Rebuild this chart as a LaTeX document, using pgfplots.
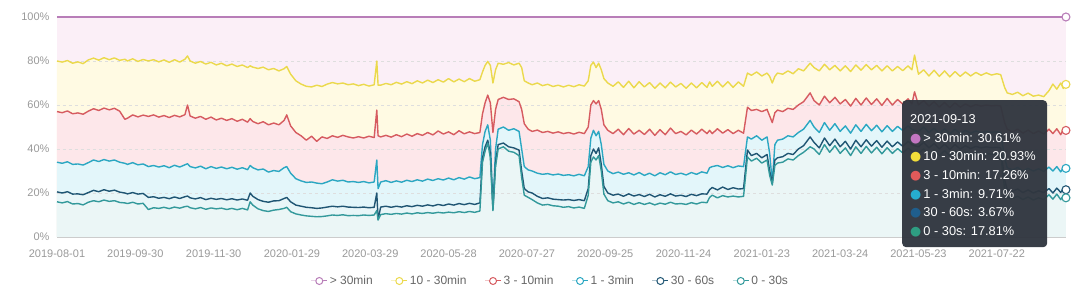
\documentclass[border=0pt]{standalone}
\usepackage{pgfplots}
\pgfplotsset{compat=1.18}
\usepackage{pgfplotstable}
\usepackage{fontspec}
\setmainfont{Liberation Sans}
\newfontfamily\dejavu{DejaVu Sans}

\definecolor{cTop}{HTML}{B87DB8}
\definecolor{cY}{HTML}{EBD94C}
\definecolor{cR}{HTML}{D65B60}
\definecolor{cC}{HTML}{2BA7C2}
\definecolor{cN}{HTML}{1F5573}
\definecolor{cT}{HTML}{33999B}
\definecolor{fTop}{HTML}{FBEFF7}
\definecolor{fY}{HTML}{FFFAE3}
\definecolor{fR}{HTML}{FDE7EA}
\definecolor{fC}{HTML}{E3F6FA}
\definecolor{fN}{HTML}{E8F6F8}
\definecolor{fT}{HTML}{EBF6F6}
\definecolor{ttbg}{HTML}{30363F}
\definecolor{ttP}{HTML}{C276C2}
\definecolor{ttY}{HTML}{F2DE3A}
\definecolor{ttR}{HTML}{E15A5A}
\definecolor{ttC}{HTML}{26ADCF}
\definecolor{ttN}{HTML}{1F5E8C}
\definecolor{ttG}{HTML}{2E9E82}
\definecolor{labgray}{HTML}{999999}
\definecolor{leggray}{HTML}{666666}

\pgfplotstableread{
d Y R C N T
0 80.0 57.0 34.0 20.5 16.0
4 79.5 56.5 33.5 20.0 15.5
8 80.2 57.3 34.2 20.6 16.1
12 79.0 56.0 33.0 19.5 15.0
16 79.6 56.4 33.2 19.6 15.2
20 78.8 55.8 32.7 19.2 14.6
24 80.5 57.2 33.8 20.2 15.8
28 81.3 58.3 35.0 21.2 16.5
32 80.4 57.5 34.3 20.6 16.0
36 81.5 58.6 35.2 21.5 16.8
40 80.6 57.8 34.5 20.8 16.2
44 81.4 58.5 35.0 21.3 16.5
48 80.3 57.2 34.0 20.4 15.7
52 80.8 53.5 33.5 20.0 15.5
54 80.0 54.0 33.0 19.6 15.2
58 81.0 55.5 33.8 20.2 15.8
62 79.8 54.6 32.8 19.5 15.0
66 80.7 55.4 33.2 19.8 15.3
70 80.0 54.8 32.0 18.0 12.5
74 80.6 55.5 32.5 18.3 13.3
78 79.6 54.5 31.8 17.6 13.0
82 80.5 55.2 32.4 18.0 13.5
86 79.4 54.3 31.5 17.4 12.9
90 80.6 55.3 32.6 18.2 13.6
94 79.5 54.6 31.8 17.5 13.1
98 80.8 55.6 32.8 18.3 13.8
100 82.3 60.0 33.3 18.6 14.0
102 80.0 55.0 32.0 17.8 13.3
106 79.0 54.0 31.4 17.3 12.8
110 79.8 54.8 32.2 17.9 13.4
114 78.6 53.5 31.0 17.0 12.6
118 79.4 54.5 32.0 17.6 13.2
122 78.2 53.2 31.2 17.1 12.8
126 79.0 54.0 31.8 17.5 13.1
130 77.8 53.0 31.0 16.9 12.5
134 78.6 53.8 31.7 17.4 13.0
138 77.5 52.6 30.8 16.8 12.4
142 78.2 53.5 31.5 17.3 13.0
146 77.0 52.2 30.6 16.7 12.3
148 77.8 53.8 32.5 20.0 16.0
150 77.2 52.5 31.5 18.5 14.5
154 76.6 51.5 30.5 17.0 12.8
158 77.2 52.4 30.9 16.2 12.0
162 76.0 51.0 29.5 15.8 11.6
166 76.6 51.8 30.2 16.4 12.2
170 75.5 51.0 29.8 16.5 12.5
174 76.5 53.0 31.5 17.5 13.0
176 77.5 55.5 32.0 18.0 13.5
179 74.0 50.5 29.0 16.0 11.5
183 71.0 47.5 26.5 14.5 10.5
187 69.5 46.0 25.5 14.0 10.0
191 68.5 44.0 24.8 13.5 9.6
195 68.2 45.8 25.0 13.3 9.4
199 69.0 43.5 24.5 13.0 9.2
203 68.4 45.5 24.2 13.2 9.3
207 69.5 44.8 25.0 13.6 9.6
211 70.2 46.0 26.0 14.0 10.0
215 69.6 45.3 25.4 13.7 9.8
219 70.0 46.2 25.8 14.0 10.1
223 69.2 45.5 25.0 13.6 9.7
227 69.6 45.0 25.2 13.5 9.8
231 68.8 45.6 24.8 13.4 9.7
235 69.4 45.0 25.2 13.6 10.0
239 68.6 45.8 24.6 13.3 9.8
243 69.2 45.2 25.0 13.5 10.0
245 80.0 57.7 35.0 20.0 12.0
246 69.0 46.0 22.0 8.0 7.7
248 69.0 45.5 25.0 13.6 10.2
252 69.8 46.2 25.6 14.0 10.6
256 69.2 45.4 24.8 13.5 10.3
260 70.3 46.5 25.5 14.0 10.7
264 69.5 45.6 24.9 13.6 10.4
268 70.6 46.8 25.8 14.2 10.9
272 69.7 45.8 25.2 13.8 10.5
276 71.0 47.0 26.0 14.4 11.0
280 70.0 46.2 25.4 14.0 10.7
284 71.3 47.5 26.3 14.6 11.1
288 70.2 46.4 25.7 14.1 10.8
292 71.5 48.2 26.5 14.8 11.2
296 70.4 46.8 25.9 14.3 10.9
300 72.0 47.8 26.8 15.0 11.3
304 70.5 46.5 26.0 14.5 11.0
308 71.8 48.3 27.0 15.2 11.5
312 70.6 46.9 26.3 14.7 11.1
316 72.0 47.8 27.3 15.3 11.6
320 70.8 47.0 26.5 14.8 11.2
324 71.5 47.5 27.0 15.5 11.8
326 75.0 56.0 42.0 36.0 34.0
328 78.0 61.0 48.0 41.0 39.0
330 79.8 64.5 51.0 44.0 42.7
332 78.0 61.0 44.0 38.0 36.0
334 70.0 47.5 14.0 12.5 12.0
336 76.0 58.0 40.0 34.0 32.0
338 79.0 62.5 49.0 42.0 40.0
342 78.5 63.5 50.0 42.7 41.0
346 79.3 62.5 48.5 41.0 39.0
350 78.2 62.8 49.2 40.5 38.5
354 79.0 61.5 48.0 39.5 37.0
356 77.0 58.0 40.0 30.0 27.0
358 71.0 51.5 32.0 22.0 19.0
361 70.0 49.0 30.5 20.5 18.0
364 69.2 48.0 30.0 20.0 17.0
368 70.0 48.6 29.0 18.5 15.5
372 68.8 47.5 28.5 17.5 14.5
376 69.4 48.0 28.8 17.8 14.8
380 68.4 47.2 28.2 17.2 14.2
384 69.0 47.8 28.6 17.0 14.0
388 68.2 47.0 28.0 16.8 13.5
392 69.0 47.5 28.3 17.0 13.8
396 68.3 46.8 27.8 16.6 13.2
400 69.2 47.6 28.5 17.0 13.6
404 68.6 47.0 27.8 16.5 13.0
407 71.0 50.0 32.0 22.0 19.0
409 78.0 60.0 45.0 37.0 34.0
411 79.5 62.0 48.5 40.0 36.4
413 77.0 60.5 46.0 38.0 35.0
415 79.0 62.0 48.0 40.5 37.0
417 76.0 58.0 42.0 33.0 30.0
419 72.0 51.0 33.0 23.0 19.5
422 70.0 48.5 30.0 20.0 16.5
426 68.5 47.0 28.8 19.0 15.5
430 70.5 49.0 29.5 19.5 16.0
434 68.0 46.5 28.5 18.5 15.0
438 70.8 49.3 29.2 19.6 15.8
442 67.8 46.8 28.2 18.6 14.8
446 70.6 48.5 29.3 19.3 15.6
450 68.2 46.6 28.0 18.4 14.8
454 70.2 49.0 29.0 19.4 15.5
458 67.6 46.2 27.8 18.2 14.6
462 70.0 48.8 29.2 19.2 15.4
466 67.8 46.5 28.3 18.5 14.9
470 70.4 49.5 29.6 19.6 15.8
474 68.2 47.0 28.4 18.6 15.0
478 69.8 48.0 29.0 19.0 15.2
482 67.6 46.4 28.2 18.4 14.8
486 70.0 48.6 29.3 19.4 15.6
490 67.8 46.8 28.5 18.8 15.0
494 70.2 49.0 29.6 19.6 15.8
498 68.0 47.0 29.0 19.5 15.6
500 70.5 48.5 31.5 21.5 18.0
502 68.5 47.0 32.0 22.5 19.0
506 70.8 49.2 32.5 21.4 17.8
510 68.2 47.2 31.6 22.7 18.8
514 70.6 48.8 32.4 21.6 18.2
518 68.0 47.0 31.5 22.4 18.6
522 70.5 48.5 32.3 21.8 18.2
526 68.5 47.2 32.0 22.0 18.5
529 74.5 59.0 45.5 39.5 36.4
532 73.5 57.5 44.5 37.0 34.5
536 75.0 58.0 46.0 38.0 35.8
540 73.2 57.0 44.0 36.0 33.6
544 74.5 58.0 45.5 37.5 35.0
546 73.0 55.0 38.0 30.0 28.0
548 70.0 52.0 25.0 24.5 23.6
550 73.0 56.5 42.0 35.0 32.5
552 74.5 57.7 44.0 36.0 33.6
556 74.0 57.0 44.5 36.5 34.0
560 75.5 58.5 46.0 38.0 35.5
564 74.2 58.0 45.5 37.5 35.0
568 76.5 60.0 47.5 40.0 37.0
572 75.5 61.5 49.0 41.5 38.5
577 79.0 65.5 53.0 45.5 41.0
580 77.0 62.0 50.0 43.0 40.0
584 75.5 60.0 47.5 40.5 37.5
588 78.5 64.0 52.0 45.0 42.0
592 76.0 61.0 48.5 41.5 38.5
596 78.0 63.5 51.5 44.5 41.5
600 75.5 60.5 48.0 41.0 38.0
604 77.8 62.5 50.5 43.5 40.5
608 75.2 59.5 47.2 40.0 37.0
612 78.2 63.0 51.0 44.0 41.0
616 75.8 60.0 48.0 41.0 38.0
620 78.4 63.2 51.2 44.2 41.2
624 76.0 60.2 48.3 41.3 38.2
628 78.0 62.8 50.8 43.8 40.8
632 75.5 59.8 47.8 40.8 37.8
636 77.8 63.0 50.6 43.6 40.6
640 75.5 60.0 48.0 41.0 38.0
644 77.5 62.5 50.3 43.2 40.2
648 75.6 60.4 48.4 41.2 38.2
652 77.8 62.8 50.5 43.5 40.4
655 76.0 60.5 49.0 42.0 39.0
657 82.7 66.0 48.5 41.5 38.5
660 74.0 60.0 48.0 41.0 38.0
664 76.0 62.0 50.0 43.0 40.0
668 73.2 59.5 47.5 40.5 37.5
672 75.8 61.5 49.5 42.5 39.5
676 73.0 59.0 47.0 40.0 37.0
680 75.5 61.2 49.2 42.2 39.2
684 72.8 58.8 46.8 39.8 36.8
688 75.2 61.0 49.0 42.0 39.0
692 73.0 59.0 47.0 40.0 37.0
696 75.0 60.5 48.5 41.5 38.5
700 73.2 59.2 47.2 40.2 37.2
704 74.8 60.2 48.2 41.2 38.2
708 73.5 59.5 47.5 40.5 37.5
712 74.6 60.0 48.0 41.0 38.0
716 73.6 59.6 47.6 40.6 37.6
720 74.2 59.8 47.8 40.8 37.8
723 73.8 59.5 47.5 40.5 37.5
726 68.0 52.0 36.0 26.0 22.0
728 65.5 49.0 31.5 21.5 18.0
732 64.8 47.8 30.5 20.8 17.5
736 65.8 49.0 31.6 21.8 18.5
740 64.2 47.2 30.0 20.2 17.0
744 65.4 48.6 31.2 21.4 18.2
748 64.0 47.0 30.0 20.0 16.8
752 64.5 48.2 31.0 21.0 17.8
756 63.8 46.8 29.8 20.2 17.0
760 66.5 49.0 31.8 22.0 19.2
763 69.5 47.0 30.0 20.0 17.2
766 67.2 49.2 32.0 22.2 19.5
769 70.0 46.5 29.6 20.3 17.0
771 67.5 49.0 31.5 21.8 18.8
773 69.38 48.45 31.19 21.48 17.81
}\data

\begin{document}
\begin{tikzpicture}
\path (-57pt,-59pt) rectangle (1023pt,237pt);
\begin{axis}[
  at={(0,0)}, anchor=south west,
  scale only axis, width=1009pt, height=220pt,
  xmin=0, xmax=773, ymin=0, ymax=100,
  set layers, clip=false,
  axis lines*=left, separate axis lines,
  y axis line style={draw=none},
  x axis line style={draw=black!20, line width=0.8pt},
  tick style={draw=none},
  ymajorgrids, grid style={dashed, draw=black!13, line width=0.6pt},
  ytick={0,20,40,60,80,100},
  yticklabels={0\%,20\%,40\%,60\%,80\%,100\%},
  xtick={0,60,...,720},
  xticklabels={2019-08-01,2019-09-30,2019-11-30,2020-01-29,2020-03-29,2020-05-28,2020-07-27,2020-09-25,2020-11-24,2021-01-23,2021-03-24,2021-05-23,2021-07-22},
  ticklabel style={font=\fontsize{11}{12}\selectfont, text=labgray},
  xticklabel style={yshift=-9pt},
  yticklabel style={xshift=-4pt},
  legend style={at={(0.489,-0.2)}, anchor=center, draw=none, fill=none,
    legend columns=6, font=\fontsize{12}{13}\selectfont, text=leggray,
    /tikz/every even column/.append style={column sep=16pt},
    legend cell align=left},
  legend image code/.code={\draw[mark repeat=2,mark phase=2,#1] plot coordinates {(0pt,0pt) (8pt,0pt) (16pt,0pt)};},
]
% filled bands
\addplot[fill=fTop, draw=none, on layer=axis background, forget plot] coordinates {(0,100) (773,100)} \closedcycle;
\addplot[fill=fY, draw=none, on layer=axis background, forget plot] table[x=d, y=Y] {\data} \closedcycle;
\addplot[fill=fR, draw=none, on layer=axis background, forget plot] table[x=d, y=R] {\data} \closedcycle;
\addplot[fill=fC, draw=none, on layer=axis background, forget plot] table[x=d, y=C] {\data} \closedcycle;
\addplot[fill=fN, draw=none, on layer=axis background, forget plot] table[x=d, y=N] {\data} \closedcycle;
\addplot[fill=fT, draw=none, on layer=axis background, forget plot] table[x=d, y=T] {\data} \closedcycle;
% lines
\addplot[cTop, line width=1.1pt, forget plot] coordinates {(0,100) (773,100)};
\addplot[cY, line width=1.4pt, line join=round, forget plot] table[x=d, y=Y] {\data};
\addplot[cR, line width=1.4pt, line join=round, forget plot] table[x=d, y=R] {\data};
\addplot[cC, line width=1.4pt, line join=round, forget plot] table[x=d, y=C] {\data};
\addplot[cN, line width=1.4pt, line join=round, forget plot] table[x=d, y=N] {\data};
\addplot[cT, line width=1.4pt, line join=round, forget plot] table[x=d, y=T] {\data};
% end markers
\addplot[cTop, only marks, mark=*, mark size=4pt, mark options={fill=white, line width=1.1pt}, forget plot] coordinates {(773,100)};
\addplot[cY, only marks, mark=*, mark size=4pt, mark options={fill=white, line width=1.1pt}, forget plot] coordinates {(773,69.38)};
\addplot[cR, only marks, mark=*, mark size=4pt, mark options={fill=white, line width=1.1pt}, forget plot] coordinates {(773,48.45)};
\addplot[cC, only marks, mark=*, mark size=4pt, mark options={fill=white, line width=1.1pt}, forget plot] coordinates {(773,31.19)};
\addplot[cN, only marks, mark=*, mark size=4pt, mark options={fill=white, line width=1.1pt}, forget plot] coordinates {(773,21.48)};
\addplot[cT, only marks, mark=*, mark size=4pt, mark options={fill=white, line width=1.1pt}, forget plot] coordinates {(773,17.81)};
% legend
\addlegendimage{cTop, line width=1pt, mark=*, mark size=3.5pt, mark options={fill=white}}
\addlegendentry{>\ 30min}
\addlegendimage{cY, line width=1pt, mark=*, mark size=3.5pt, mark options={fill=white}}
\addlegendentry{10\ -\ 30min}
\addlegendimage{cR, line width=1pt, mark=*, mark size=3.5pt, mark options={fill=white}}
\addlegendentry{3\ -\ 10min}
\addlegendimage{cC, line width=1pt, mark=*, mark size=3.5pt, mark options={fill=white}}
\addlegendentry{1\ -\ 3min}
\addlegendimage{cN, line width=1pt, mark=*, mark size=3.5pt, mark options={fill=white}}
\addlegendentry{30\ -\ 60s}
\addlegendimage{cT, line width=1pt, mark=*, mark size=3.5pt, mark options={fill=white}}
\addlegendentry{0\ -\ 30s}
\coordinate (tt) at (rel axis cs:0.8375,0.6227);
\end{axis}
\node[anchor=north west, fill=ttbg, fill opacity=0.96, rounded corners=4pt, inner sep=0pt,
      minimum width=145pt, minimum height=147pt] (box) at (tt) {};
\node[anchor=north west, text=white, font=\fontsize{12.8}{18.6}\selectfont, align=left, inner sep=0pt]
  at ([xshift=8pt,yshift=-14.5pt]box.north west)
  {2021-09-13\\
   {\dejavu\textcolor{ttP}{●}}\,> 30min: 30.61\%\\
   {\dejavu\textcolor{ttY}{●}}\,10 - 30min: 20.93\%\\
   {\dejavu\textcolor{ttR}{●}}\,3 - 10min: 17.26\%\\
   {\dejavu\textcolor{ttC}{●}}\,1 - 3min: 9.71\%\\
   {\dejavu\textcolor{ttN}{●}}\,30 - 60s: 3.67\%\\
   {\dejavu\textcolor{ttG}{●}}\,0 - 30s: 17.81\%};
\end{tikzpicture}
\end{document}
